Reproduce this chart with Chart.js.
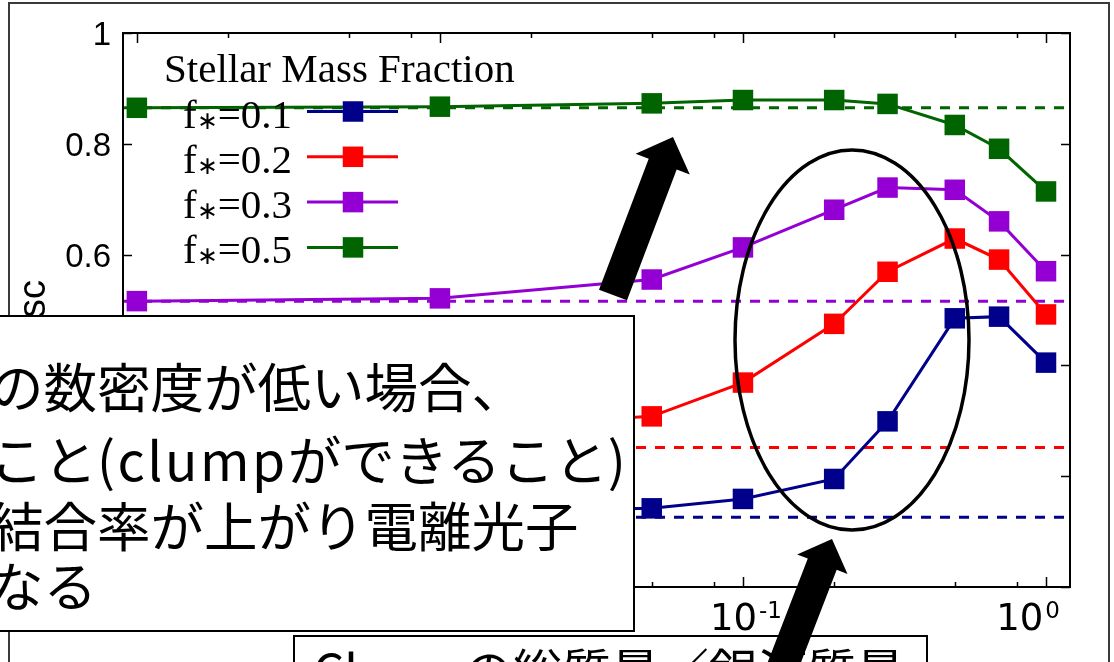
<!DOCTYPE html>
<html lang="ja">
<head>
<meta charset="utf-8">
<title>Escape fraction vs clump mass fraction</title>
<script src="https://cdn.jsdelivr.net/npm/chart.js@4.4.1/dist/chart.umd.min.js"></script>
<style>
  html, body { margin: 0; padding: 0; background: #fff; }
  #stage { position: relative; width: 1114px; height: 662px; overflow: hidden; background: #fff; }
  #frame { position: absolute; left: 8px; top: 2px; width: 1102px; height: 720px; box-sizing: border-box; border: 2px solid #3a3a3a; }
  #plot { position: absolute; left: 0; top: 0; }
  .box { position: absolute; box-sizing: border-box; background: #fff; border: 2px solid #000; }
  .jp { position: absolute; white-space: nowrap; font-family: "Noto Sans CJK JP", sans-serif; color: #000; height: 60px; line-height: 60px; }
  .lat { letter-spacing: 2.5px; }
  #marks { position: absolute; left: 0; top: 0; }
</style>
</head>
<body>
<div id="stage">
  <div id="frame"></div>
  <canvas id="plot" width="1114" height="662"></canvas>

  <div class="box" style="left:-40px; top:315px; width:675px; height:317px;"></div>
  <div class="jp" style="left:-10px; top:355px; font-size:53.5px;">の数密度が低い場合、</div>
  <div class="jp" style="left:-10px; top:428px; font-size:53.5px;">こと<span class="lat">(clump</span>ができること)</div>
  <div class="jp" style="left:-10px; top:494px; font-size:53.5px;">結合率が上がり電離光子</div>
  <div class="jp" style="left:-10px; top:554px; font-size:53.5px;">なる</div>

  <div class="box" style="left:293px; top:635px; width:635px; height:80px;"></div>
  <div class="jp" style="left:313px; top:639px; font-size:49px;">Clumpの総質量／銀河質量</div>

  <svg id="marks" width="1114" height="662">
    <ellipse cx="852" cy="340" rx="117" ry="190" fill="none" stroke="#000" stroke-width="3.5"/>
    <polygon id="arrowUpper" fill="#000"/>
    <polygon id="arrowLower" fill="#000"/>
  </svg>
</div>

<script>
// Clump mass / galaxy mass (x) and escape fraction (y) per stellar mass fraction
const clumpMassRatio = [0.001, 0.01, 0.05, 0.1, 0.2, 0.3, 0.5, 0.7, 1.0];
const fescStar01 = [0.130, 0.135, 0.142, 0.159, 0.195, 0.299, 0.485, 0.488, 0.405];
const fescStar02 = [0.270, 0.285, 0.308, 0.369, 0.475, 0.569, 0.629, 0.591, 0.492];
const fescStar03 = [0.516, 0.521, 0.555, 0.613, 0.681, 0.721, 0.717, 0.660, 0.570];
const fescStar05 = [0.865, 0.867, 0.873, 0.879, 0.879, 0.872, 0.834, 0.791, 0.714];
// escape fraction without clumps (horizontal dashed levels)
const fescNoClump = [0.126, 0.252, 0.516, 0.865];
const starFractions = ['0.1', '0.2', '0.3', '0.5'];
const yTickValues = [0, 0.2, 0.4, 0.6, 0.8, 1];
const xDecades = [0.001, 0.01, 0.1, 1];
const xDecadeExponents = ['-3', '-2', '-1', '0'];

const seriesColors = ['#00008b', '#ff0000', '#9400d3', '#006400'];
const X_MIN = 0.0009, X_MAX = 1.2;

const allSeries = [fescStar01, fescStar02, fescStar03, fescStar05];

const solidSets = allSeries.map((vals, i) => ({
  label: 'f∗=' + starFractions[i],
  data: clumpMassRatio.map((x, j) => ({ x: x, y: vals[j] })),
  borderColor: seriesColors[i],
  backgroundColor: seriesColors[i],
  borderWidth: 3,
  pointStyle: 'rect',
  pointRadius: 14.5,
  pointBorderWidth: 0,
  pointHoverRadius: 14.5,
  tension: 0
}));

const dashedSets = fescNoClump.map((v, i) => ({
  label: 'no clump ' + starFractions[i],
  data: [{ x: X_MIN, y: v }, { x: X_MAX, y: v }],
  borderColor: seriesColors[i],
  borderWidth: 3,
  borderDash: [10, 9],
  pointRadius: 0,
  pointHoverRadius: 0
}));

// border box and inward tick marks on all four sides
const framePlugin = {
  id: 'frame',
  afterDatasetsDraw(chart) {
    const { ctx, chartArea: a, scales } = chart;
    ctx.save();
    ctx.strokeStyle = '#000';
    ctx.lineWidth = 2;
    ctx.strokeRect(a.left, a.top, a.right - a.left, a.bottom - a.top);
    ctx.lineWidth = 1.5;
    ctx.beginPath();
    yTickValues.forEach(v => {
      const y = Math.round(scales.y.getPixelForValue(v)) + 0.5;
      ctx.moveTo(a.left, y); ctx.lineTo(a.left + 9, y);
      ctx.moveTo(a.right, y); ctx.lineTo(a.right - 9, y);
    });
    xDecades.forEach(d => {
      [1, 2, 5, 8].forEach(m => {
        const v = d * m;
        if (v < X_MIN || v > X_MAX) return;
        const x = Math.round(scales.x.getPixelForValue(v)) + 0.5;
        const len = m === 1 ? 10 : 5;
        ctx.moveTo(x, a.top); ctx.lineTo(x, a.top + len);
        ctx.moveTo(x, a.bottom); ctx.lineTo(x, a.bottom - len);
      });
    });
    ctx.stroke();
    ctx.restore();
  }
};

// key drawn inside the plot, upper left
const keyPlugin = {
  id: 'key',
  afterDatasetsDraw(chart) {
    const { ctx } = chart;
    ctx.save();
    ctx.fillStyle = '#000';
    ctx.textBaseline = 'alphabetic';
    ctx.textAlign = 'left';
    ctx.font = '41px "Liberation Serif"';
    ctx.fillText('Stellar Mass Fraction', 164, 82);
    for (let i = 0; i < starFractions.length; i++) {
      const ly = 111.5 + i * 45.3;
      const base = ly + 16;
      let x = 183;
      ctx.fillStyle = '#000';
      ctx.font = '41px "Liberation Serif"';
      ctx.fillText('f', x, base);
      x += ctx.measureText('f').width;
      ctx.font = '25px "Liberation Serif"';
      ctx.fillText('∗', x, base + 1);
      x += ctx.measureText('∗').width;
      ctx.font = '41px "Liberation Serif"';
      ctx.fillText('=' + starFractions[i], x, base);
      const ds = chart.data.datasets[i];
      ctx.strokeStyle = ds.borderColor;
      ctx.lineWidth = 3;
      ctx.beginPath();
      ctx.moveTo(307, ly); ctx.lineTo(398, ly);
      ctx.stroke();
      ctx.fillStyle = ds.backgroundColor;
      ctx.fillRect(353 - 10.25, ly - 10.25, 20.5, 20.5);
    }
    ctx.restore();
  }
};

// decade labels on the x axis and the rotated y axis title
const labelPlugin = {
  id: 'labels',
  afterDraw(chart) {
    const { ctx, scales, chartArea: a } = chart;
    ctx.save();
    ctx.fillStyle = '#000';
    ctx.textBaseline = 'alphabetic';
    ctx.textAlign = 'left';
    const nudge = { '-3': 0, '-2': 0, '-1': 3, '0': -18 };
    xDecades.forEach((d, i) => {
      const exp = xDecadeExponents[i];
      const cx = scales.x.getPixelForValue(d);
      ctx.font = '37px "DejaVu Sans"';
      const wBase = ctx.measureText('10').width;
      ctx.font = '23px "DejaVu Sans"';
      const wExp = ctx.measureText(exp).width;
      const x0 = cx - (wBase + wExp + 2) / 2 + nudge[exp];
      ctx.font = '37px "DejaVu Sans"';
      ctx.fillText('10', x0, a.bottom + 43);
      ctx.font = '23px "DejaVu Sans"';
      ctx.fillText(exp, x0 + wBase + 2, a.bottom + 31);
    });
    ctx.translate(45, 280);
    ctx.rotate(-Math.PI / 2);
    ctx.textAlign = 'right';
    ctx.font = '38px "Liberation Sans"';
    ctx.fillText('esc', 0, 0);
    const w = ctx.measureText('esc').width;
    ctx.font = '46px "Liberation Sans"';
    ctx.fillText('f', -w - 2, -8);
    ctx.restore();
  }
};

new Chart(document.getElementById('plot'), {
  type: 'line',
  data: { datasets: solidSets.concat(dashedSets) },
  options: {
    responsive: false,
    animation: false,
    devicePixelRatio: 1,
    layout: { padding: { top: 33, right: 44, left: 0, bottom: 0 } },
    plugins: { legend: { display: false }, tooltip: { enabled: false } },
    scales: {
      x: {
        type: 'logarithmic',
        min: X_MIN,
        max: X_MAX,
        grid: { display: false, drawTicks: false },
        border: { display: false },
        ticks: { display: false },
        afterFit(s) { s.height = 75; }
      },
      y: {
        min: 0,
        max: 1,
        grid: { display: false, drawTicks: false },
        border: { display: false },
        ticks: {
          stepSize: 0.2,
          padding: 12,
          labelOffset: 3,
          color: '#000',
          font: { family: 'Liberation Sans', size: 33 },
          callback: v => String(Math.round(v * 10) / 10)
        },
        afterFit(s) { s.width = 123; }
      }
    }
  },
  plugins: [framePlugin, keyPlugin, labelPlugin]
});

// block arrows: flat tail, triangular head
function arrowPoints(tail, tip, shaftW, headW, headL) {
  const dx = tip[0] - tail[0], dy = tip[1] - tail[1];
  const len = Math.hypot(dx, dy);
  const ux = dx / len, uy = dy / len, nx = -uy, ny = ux;
  const bx = tip[0] - ux * headL, by = tip[1] - uy * headL;
  const p = [
    [tip[0], tip[1]],
    [bx + nx * headW / 2, by + ny * headW / 2],
    [bx + nx * shaftW / 2, by + ny * shaftW / 2],
    [tail[0] + nx * shaftW / 2, tail[1] + ny * shaftW / 2],
    [tail[0] - nx * shaftW / 2, tail[1] - ny * shaftW / 2],
    [bx - nx * shaftW / 2, by - ny * shaftW / 2],
    [bx - nx * headW / 2, by - ny * headW / 2]
  ];
  return p.map(q => q[0].toFixed(1) + ',' + q[1].toFixed(1)).join(' ');
}
document.getElementById('arrowUpper').setAttribute('points', arrowPoints([613, 295], [673, 137], 30, 58, 29));
document.getElementById('arrowLower').setAttribute('points', arrowPoints([769, 702], [832, 539], 31, 54, 27));
</script>
</body>
</html>
